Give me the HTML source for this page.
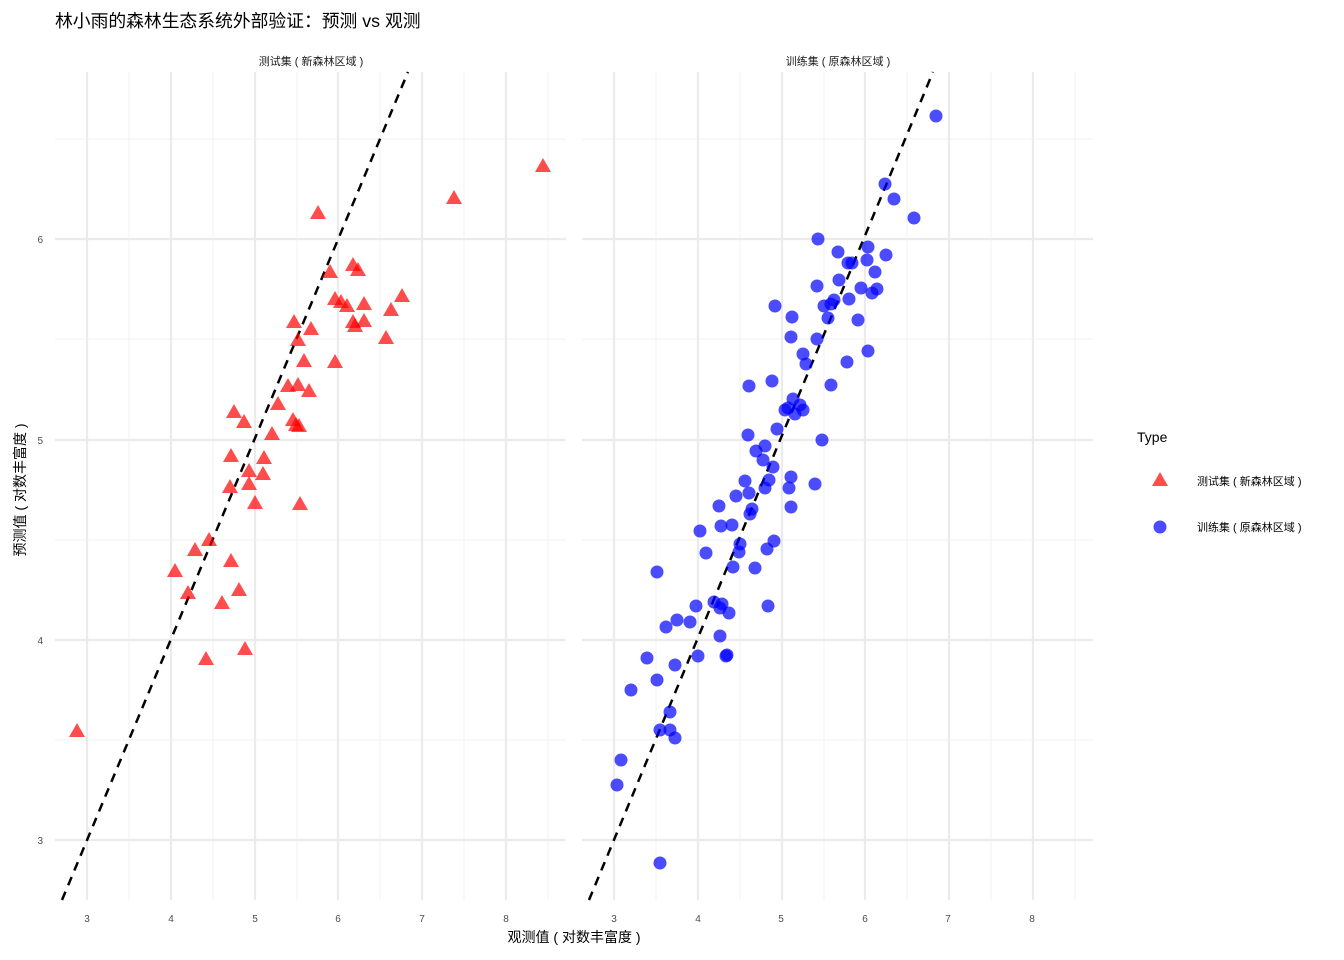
<!DOCTYPE html>
<html><head><meta charset="utf-8"><style>
html,body{margin:0;padding:0;background:#fff}
svg{display:block}
text{font-family:"Liberation Sans","Noto Sans CJK SC",sans-serif;white-space:pre}
</style></head><body>
<svg width="1344" height="960" xmlns="http://www.w3.org/2000/svg">
<defs>
<g id="grid">
<g stroke="#f2f2f2" stroke-width="1">
<line x1="0" x2="511" y1="139" y2="139"/><line x1="0" x2="511" y1="339" y2="339"/><line x1="0" x2="511" y1="540" y2="540"/><line x1="0" x2="511" y1="740" y2="740"/>
<line x1="74" x2="74" y1="72" y2="900"/><line x1="158" x2="158" y1="72" y2="900"/><line x1="242" x2="242" y1="72" y2="900"/><line x1="325" x2="325" y1="72" y2="900"/><line x1="409" x2="409" y1="72" y2="900"/><line x1="493" x2="493" y1="72" y2="900"/>
</g>
<g stroke="#ebebeb" stroke-width="2.2">
<line x1="0" x2="511" y1="239" y2="239"/><line x1="0" x2="511" y1="440" y2="440"/><line x1="0" x2="511" y1="640" y2="640"/><line x1="0" x2="511" y1="840" y2="840"/>
<line x1="32" x2="32" y1="72" y2="900"/><line x1="116" x2="116" y1="72" y2="900"/><line x1="200" x2="200" y1="72" y2="900"/><line x1="283" x2="283" y1="72" y2="900"/><line x1="367" x2="367" y1="72" y2="900"/><line x1="451" x2="451" y1="72" y2="900"/>
</g>
</g>
<path id="tri" d="M0,-8 L8,6 L-8,6 Z"/>
</defs>

<text x="55" y="27" font-size="17.8" fill="#000">林小雨的森林生态系统外部验证：预测 vs 观测</text>
<text x="311" y="65" font-size="11" text-anchor="middle" fill="#1a1a1a">测试集 ( 新森林区域 )</text>
<text x="838" y="65" font-size="11" text-anchor="middle" fill="#1a1a1a">训练集 ( 原森林区域 )</text>

<g transform="translate(55,0)"><use href="#grid"/></g>
<g transform="translate(582,0)"><use href="#grid"/></g>

<line x1="62" y1="900" x2="408" y2="72" stroke="#000" stroke-width="2.5" stroke-dasharray="9,7"/>
<line x1="589" y1="900" x2="933" y2="72" stroke="#000" stroke-width="2.5" stroke-dasharray="9,7"/>

<g fill="rgba(255,0,0,0.7)">
<use href="#tri" x="77" y="731"/><use href="#tri" x="175" y="571"/><use href="#tri" x="188" y="593"/><use href="#tri" x="195" y="550"/><use href="#tri" x="209" y="540"/><use href="#tri" x="206" y="659"/><use href="#tri" x="222" y="603"/><use href="#tri" x="231" y="561"/><use href="#tri" x="239" y="590"/><use href="#tri" x="245" y="649"/><use href="#tri" x="230" y="487"/><use href="#tri" x="231" y="456"/><use href="#tri" x="234" y="412"/><use href="#tri" x="244" y="422"/><use href="#tri" x="249" y="471"/><use href="#tri" x="249" y="484"/><use href="#tri" x="255" y="503"/><use href="#tri" x="264" y="458"/><use href="#tri" x="263" y="474"/><use href="#tri" x="272" y="434"/><use href="#tri" x="278" y="404"/><use href="#tri" x="288" y="386"/><use href="#tri" x="293" y="420"/><use href="#tri" x="296" y="425"/><use href="#tri" x="299" y="426"/><use href="#tri" x="300" y="504"/><use href="#tri" x="298" y="385"/><use href="#tri" x="304" y="361"/><use href="#tri" x="309" y="391"/><use href="#tri" x="311" y="329"/><use href="#tri" x="294" y="322"/><use href="#tri" x="298" y="340"/><use href="#tri" x="318" y="213"/><use href="#tri" x="330" y="272"/><use href="#tri" x="335" y="362"/><use href="#tri" x="335" y="299"/><use href="#tri" x="341" y="302"/><use href="#tri" x="347" y="306"/><use href="#tri" x="353" y="265"/><use href="#tri" x="358" y="270"/><use href="#tri" x="353" y="322"/><use href="#tri" x="355" y="326"/><use href="#tri" x="364" y="304"/><use href="#tri" x="364" y="321"/><use href="#tri" x="386" y="338"/><use href="#tri" x="391" y="310"/><use href="#tri" x="402" y="296"/><use href="#tri" x="454" y="198"/><use href="#tri" x="543" y="166"/>
</g>

<g fill="rgba(0,0,255,0.7)">
<circle cx="936" cy="116" r="6.5"/><circle cx="885" cy="184" r="6.5"/><circle cx="894" cy="199" r="6.5"/><circle cx="914" cy="218" r="6.5"/><circle cx="818" cy="239" r="6.5"/><circle cx="868" cy="247" r="6.5"/><circle cx="838" cy="252" r="6.5"/><circle cx="886" cy="255" r="6.5"/><circle cx="848" cy="263" r="6.5"/><circle cx="852" cy="263" r="6.5"/><circle cx="867" cy="260" r="6.5"/><circle cx="875" cy="272" r="6.5"/><circle cx="839" cy="280" r="6.5"/><circle cx="817" cy="286" r="6.5"/><circle cx="877" cy="289" r="6.5"/><circle cx="872" cy="293" r="6.5"/><circle cx="861" cy="288" r="6.5"/><circle cx="849" cy="299" r="6.5"/><circle cx="834" cy="300" r="6.5"/><circle cx="824" cy="306" r="6.5"/><circle cx="831" cy="304" r="6.5"/><circle cx="828" cy="318" r="6.5"/><circle cx="858" cy="320" r="6.5"/><circle cx="775" cy="306" r="6.5"/><circle cx="792" cy="317" r="6.5"/><circle cx="791" cy="337" r="6.5"/><circle cx="817" cy="339" r="6.5"/><circle cx="868" cy="351" r="6.5"/><circle cx="803" cy="354" r="6.5"/><circle cx="806" cy="364" r="6.5"/><circle cx="847" cy="362" r="6.5"/><circle cx="831" cy="385" r="6.5"/><circle cx="749" cy="386" r="6.5"/><circle cx="772" cy="381" r="6.5"/><circle cx="793" cy="399" r="6.5"/><circle cx="788" cy="408" r="6.5"/><circle cx="785" cy="410" r="6.5"/><circle cx="800" cy="405" r="6.5"/><circle cx="803" cy="410" r="6.5"/><circle cx="795" cy="414" r="6.5"/><circle cx="777" cy="429" r="6.5"/><circle cx="822" cy="440" r="6.5"/><circle cx="748" cy="435" r="6.5"/><circle cx="765" cy="446" r="6.5"/><circle cx="756" cy="451" r="6.5"/><circle cx="773" cy="467" r="6.5"/><circle cx="763" cy="460" r="6.5"/><circle cx="745" cy="481" r="6.5"/><circle cx="769" cy="480" r="6.5"/><circle cx="765" cy="488" r="6.5"/><circle cx="815" cy="484" r="6.5"/><circle cx="789" cy="488" r="6.5"/><circle cx="791" cy="477" r="6.5"/><circle cx="736" cy="496" r="6.5"/><circle cx="749" cy="493" r="6.5"/><circle cx="719" cy="506" r="6.5"/><circle cx="791" cy="507" r="6.5"/><circle cx="752" cy="509" r="6.5"/><circle cx="750" cy="514" r="6.5"/><circle cx="732" cy="525" r="6.5"/><circle cx="721" cy="526" r="6.5"/><circle cx="700" cy="531" r="6.5"/><circle cx="740" cy="544" r="6.5"/><circle cx="739" cy="552" r="6.5"/><circle cx="706" cy="553" r="6.5"/><circle cx="767" cy="549" r="6.5"/><circle cx="774" cy="541" r="6.5"/><circle cx="755" cy="568" r="6.5"/><circle cx="733" cy="567" r="6.5"/><circle cx="657" cy="572" r="6.5"/><circle cx="696" cy="606" r="6.5"/><circle cx="714" cy="602" r="6.5"/><circle cx="722" cy="604" r="6.5"/><circle cx="720" cy="608" r="6.5"/><circle cx="729" cy="613" r="6.5"/><circle cx="768" cy="606" r="6.5"/><circle cx="690" cy="622" r="6.5"/><circle cx="677" cy="620" r="6.5"/><circle cx="666" cy="627" r="6.5"/><circle cx="720" cy="636" r="6.5"/><circle cx="698" cy="656" r="6.5"/><circle cx="726" cy="656" r="6.5"/><circle cx="727" cy="655" r="6.5"/><circle cx="647" cy="658" r="6.5"/><circle cx="675" cy="665" r="6.5"/><circle cx="657" cy="680" r="6.5"/><circle cx="631" cy="690" r="6.5"/><circle cx="670" cy="712" r="6.5"/><circle cx="660" cy="730" r="6.5"/><circle cx="670" cy="730" r="6.5"/><circle cx="675" cy="738" r="6.5"/><circle cx="621" cy="760" r="6.5"/><circle cx="617" cy="785" r="6.5"/><circle cx="660" cy="863" r="6.5"/>
</g>

<g font-size="10" fill="#4d4d4d" text-anchor="middle">
<text x="87" y="922">3</text><text x="171" y="922">4</text><text x="255" y="922">5</text><text x="338" y="922">6</text><text x="422" y="922">7</text><text x="506" y="922">8</text>
<text x="614" y="922">3</text><text x="698" y="922">4</text><text x="781" y="922">5</text><text x="865" y="922">6</text><text x="948" y="922">7</text><text x="1032" y="922">8</text>
</g>
<g font-size="10" fill="#4d4d4d" text-anchor="end">
<text x="43" y="243">6</text><text x="43" y="444">5</text><text x="43" y="644">4</text><text x="43" y="844">3</text>
</g>
<text x="574" y="942" font-size="14" text-anchor="middle" fill="#000">观测值 ( 对数丰富度 )</text>
<text transform="translate(25,490) rotate(-90)" font-size="14" text-anchor="middle" fill="#000">预测值 ( 对数丰富度 )</text>

<text x="1137" y="442" font-size="14" fill="#000">Type</text>
<use href="#tri" x="1160" y="480" fill="rgba(255,0,0,0.7)"/>
<circle cx="1160" cy="527" r="6.5" fill="rgba(0,0,255,0.7)"/>
<text x="1197" y="485" font-size="11" fill="#000">测试集 ( 新森林区域 )</text>
<text x="1197" y="531" font-size="11" fill="#000">训练集 ( 原森林区域 )</text>
</svg>
</body></html>
